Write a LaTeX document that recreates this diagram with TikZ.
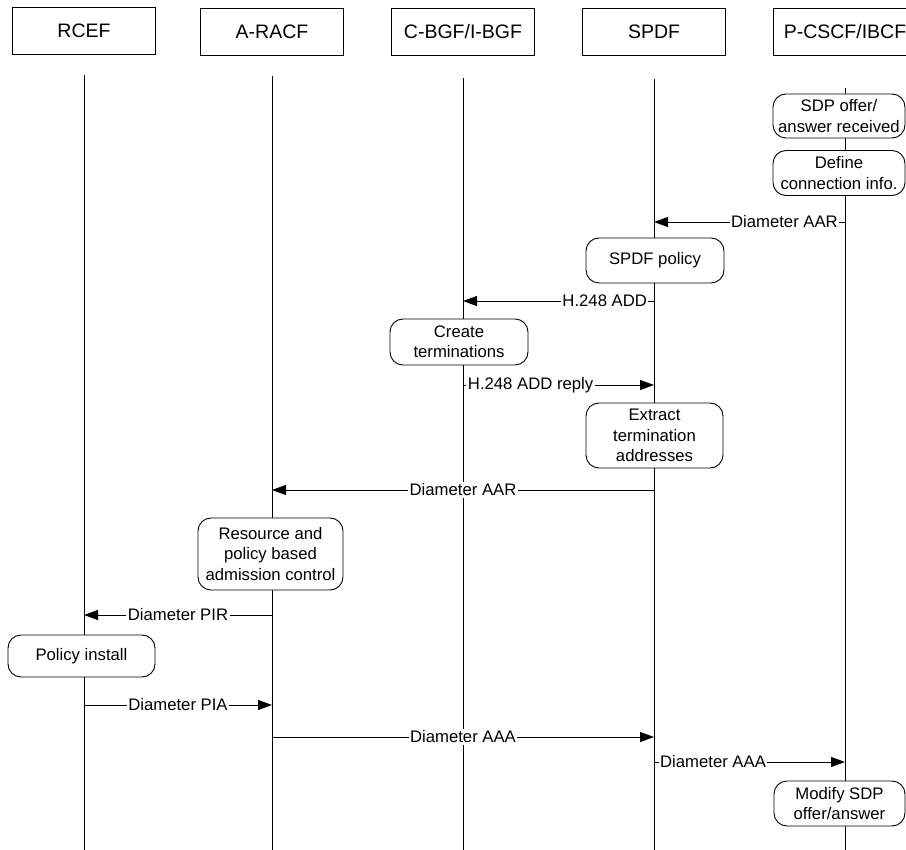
\documentclass[tikz,border=0pt]{standalone}
\usepackage{fontspec}
\setmainfont{Liberation Sans}
\usetikzlibrary{arrows.meta}

\begin{document}
\begin{tikzpicture}[x=1pt, y=-1pt, line width=0.9pt,
  head/.style={draw, minimum width=143pt, minimum height=47pt, inner sep=0pt, font=\fontsize{19.5}{23}\selectfont},
  act/.style={draw, fill=white, rounded corners=13pt, align=center, inner sep=0pt, font=\fontsize{16.7}{20.5}\selectfont},
  msg/.style={-{Triangle[length=14pt,width=10pt]}},
  lbl/.style={fill=white, inner sep=1.5pt, font=\fontsize{16.7}{20.5}\selectfont}]
\useasboundingbox (0,0) rectangle (906,850);

% heads
\node[head] (rcef) at (84,31) {RCEF};
\node[head] (racf) at (272,32) {A-RACF};
\node[head] (bgf) at (463,32) {C-BGF/I-BGF};
\node[head] (spdf) at (654,32) {SPDF};
\node[head] (pcscf) at (845,32) {P-CSCF/IBCF};

% lifelines
\draw ([yshift=-20pt]rcef.south) -- (rcef |- 0,850);
\draw ([yshift=-20pt]racf.south) -- (racf |- 0,850);
\draw ([yshift=-22pt]bgf.south) -- (bgf |- 0,850);
\draw ([yshift=-23pt]spdf.south) -- (spdf |- 0,850);
\draw ([yshift=-32pt]pcscf.south) -- (pcscf |- 0,850);

% actions
\node[act, minimum width=132pt, minimum height=44pt] (sdp) at (839,116) {SDP offer/\\answer received};
\node[act, minimum width=132pt, minimum height=45pt] (define) at (839,173) {Define\\connection info.};
\node[act, minimum width=138pt, minimum height=45pt] (policy) at (655,260.5) {SPDF policy};
\node[act, minimum width=138pt, minimum height=46pt] (create) at (459,342) {Create\\terminations};
\node[act, minimum width=137pt, minimum height=65pt] (extract) at (654.5,435.5) {Extract\\termination\\addresses};
\node[act, minimum width=145pt, minimum height=72pt] (admit) at (270.5,554) {Resource and\\policy based\\admission control};
\node[act, minimum width=147pt, minimum height=42pt] (install) at (81.5,656) {Policy install};
\node[act, minimum width=131pt, minimum height=45pt] (modify) at (839.5,803.5) {Modify SDP\\offer/answer};

% messages
\draw[msg] (pcscf |- 0,222) -- node[lbl, pos=0.317] {Diameter AAR} (spdf |- 0,222);
\draw[msg] (spdf |- 0,301) -- node[lbl, pos=0.258] {H.248 ADD} (bgf |- 0,301);
\draw[msg] (bgf |- 0,385) -- node[lbl, pos=0.354] {H.248 ADD reply} (spdf |- 0,385);
\draw[msg] (spdf |- 0,490) -- node[lbl] {Diameter AAR} (racf |- 0,490);
\draw[msg] (racf |- 0,615) -- node[lbl] {Diameter PIR} (rcef |- 0,615);
\draw[msg] (rcef |- 0,705) -- node[lbl] {Diameter PIA} (racf |- 0,705);
\draw[msg] (racf |- 0,737) -- node[lbl] {Diameter AAA} (spdf |- 0,737);
\draw[msg] (spdf |- 0,762) -- node[lbl, pos=0.309] {Diameter AAA} (pcscf |- 0,762);
\end{tikzpicture}
\end{document}
